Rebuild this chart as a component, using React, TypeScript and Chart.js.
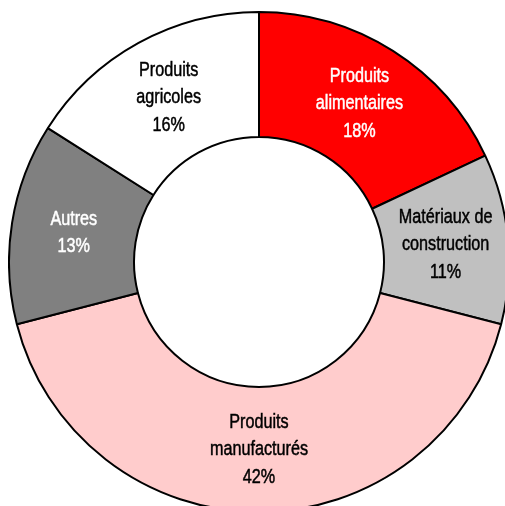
import React, { useEffect, useRef } from "react";
import { Chart, registerables } from "chart.js";

Chart.register(...registerables);

const categories: string[][] = [
  ["Produits", "alimentaires"],
  ["Matériaux de", "construction"],
  ["Produits", "manufacturés"],
  ["Autres"],
  ["Produits", "agricoles"],
];
const values: number[] = [18, 11, 42, 13, 16];
const colors: string[] = ["#ff0000", "#c0c0c0", "#ffcccc", "#808080", "#ffffff"];
const textColors: string[] = ["#ffffff", "#000000", "#000000", "#ffffff", "#000000"];

const FONT = '"Liberation Sans", Arial, sans-serif';

const labelPlugin = {
  id: "sliceLabels",
  afterDatasetsDraw(chart: any) {
    const ctx = chart.ctx;
    const meta = chart.getDatasetMeta(0);
    ctx.save();
    ctx.font = `20.5px ${FONT}`;
    ctx.textAlign = "center";
    ctx.textBaseline = "middle";
    const lineH = 27.5;
    meta.data.forEach((arc: any, i: number) => {
      const p = arc.getProps(["x", "y", "startAngle", "endAngle", "innerRadius", "outerRadius"], true);
      const mid = (p.startAngle + p.endAngle) / 2;
      const r = (p.innerRadius + p.outerRadius) / 2;
      const cx = p.x + Math.cos(mid) * r;
      const cy = p.y + Math.sin(mid) * r;
      const lines = [...categories[i], `${values[i]}%`];
      ctx.fillStyle = textColors[i];
      ctx.strokeStyle = textColors[i];
      ctx.lineWidth = 0.5;
      const top = cy - ((lines.length - 1) * lineH) / 2;
      lines.forEach((t, k) => {
        ctx.save();
        ctx.translate(cx, top + k * lineH);
        ctx.scale(0.79, 1);
        ctx.fillText(t, 0, 0);
        ctx.strokeText(t, 0, 0);
        ctx.restore();
      });
    });
    ctx.restore();
  },
};

export default function App() {
  const ref = useRef<HTMLCanvasElement | null>(null);
  useEffect(() => {
    if (!ref.current) return;
    const chart = new Chart(ref.current, {
      type: "doughnut",
      data: {
        labels: categories.map((c) => c.join(" ")),
        datasets: [
          {
            data: values,
            backgroundColor: colors,
            borderColor: "#000000",
            borderWidth: 2,
            borderAlign: "center",
          },
        ],
      },
      options: {
        responsive: false,
        animation: false,
        cutout: "50%",
        layout: { padding: 0 },
        plugins: {
          legend: { display: false },
          tooltip: { enabled: false },
        },
      },
      plugins: [labelPlugin],
    });
    return () => chart.destroy();
  }, []);
  return (
    <div style={{ position: "fixed", left: 0, top: 0, width: 505, height: 506, overflow: "hidden", background: "#ffffff" }}>
      <canvas ref={ref} width={502} height={502} style={{ position: "absolute", left: 8, top: 11, width: 502, height: 502 }} />
    </div>
  );
}
